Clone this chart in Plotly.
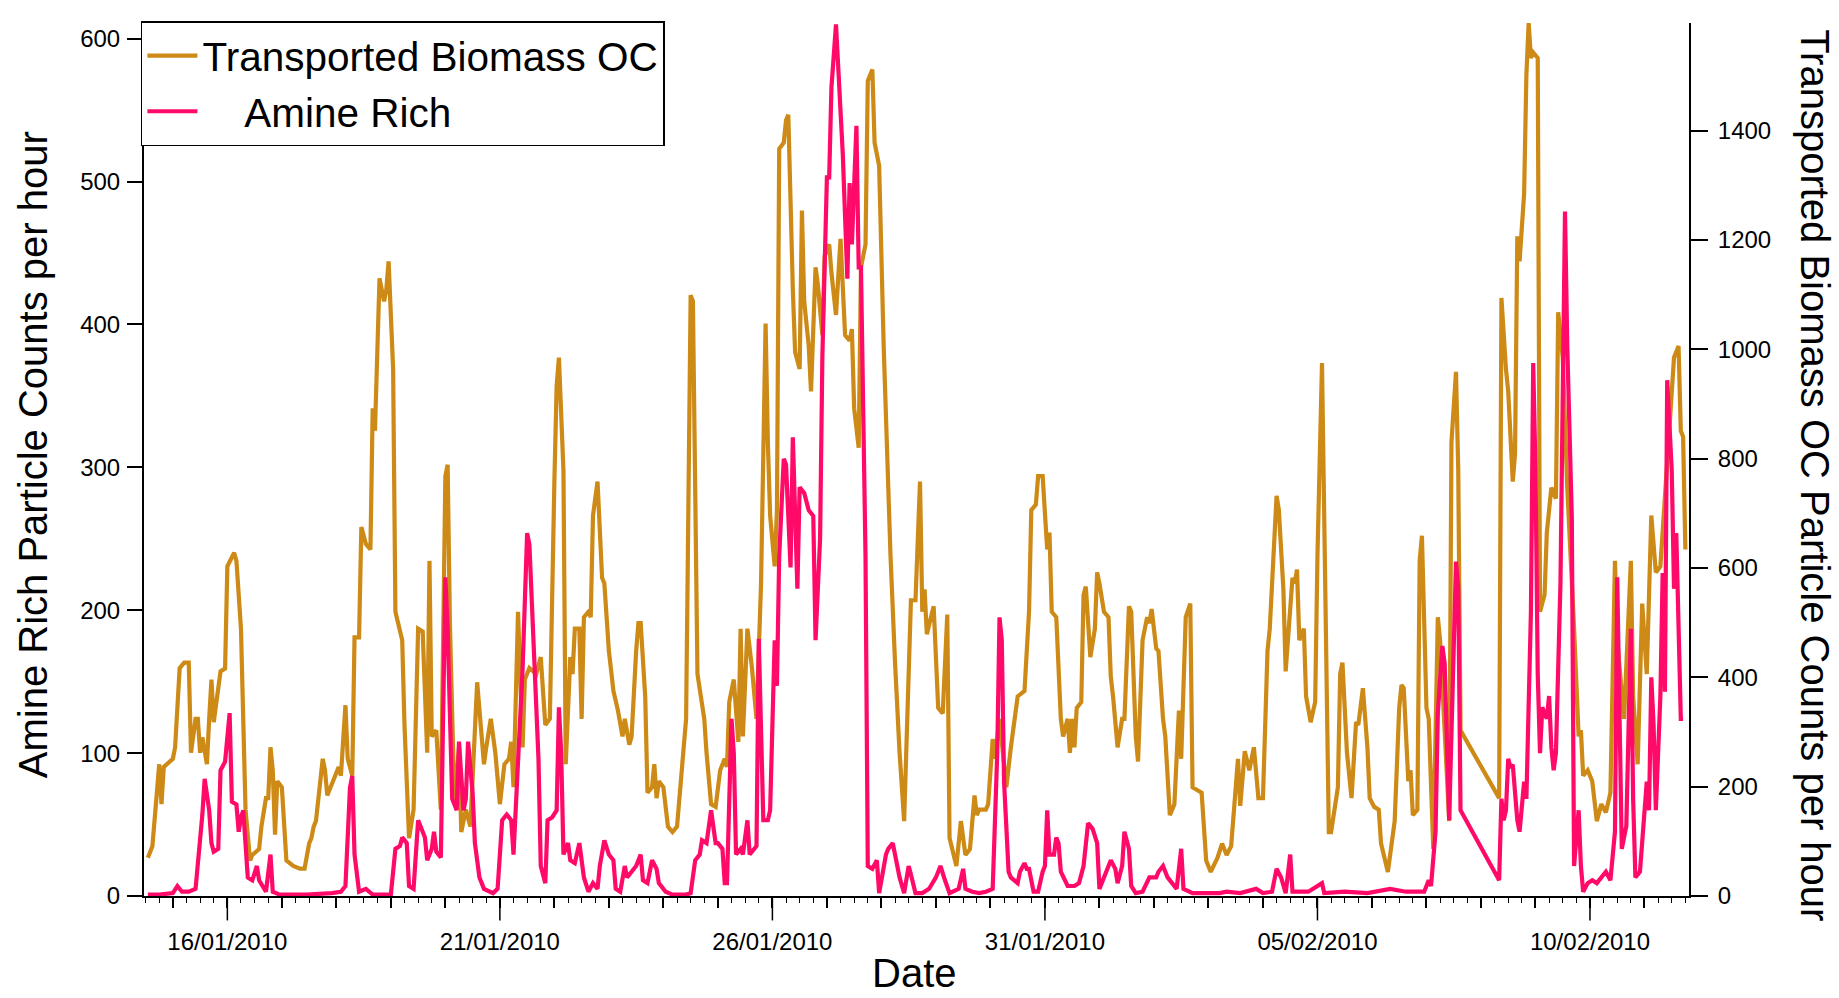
import pandas as pd
import plotly.graph_objects as go

# Hourly particle counts, keyed by hours since 2010-01-14 00:00
start = pd.Timestamp("2010-01-14 00:00")

biomass_hours = [
    13, 15, 18, 19, 20, 24, 25, 27, 29, 31, 32, 34, 35, 36, 37, 39, 40, 41, 42, 45,
    47, 48, 51, 52, 54, 56, 58, 59, 62, 63, 65, 66, 67, 68, 69, 70, 72, 74, 77, 80,
    82, 84, 85, 86, 87, 90, 91, 92, 95, 97, 98, 100, 101, 103, 104, 106, 107, 109, 111, 112,
    113, 115, 117, 118, 119, 121, 122, 125, 126, 128, 130, 132, 134, 136, 137, 138, 140, 142, 144, 145,
    146, 148, 150, 151, 153, 155, 158, 161, 162, 164, 166, 168, 170, 172, 173, 174, 176, 178, 179, 181,
    184, 186, 188, 190, 192, 193, 194, 196, 197, 199, 200, 201, 203, 204, 205, 207, 208, 209, 211, 213,
    214, 216, 218, 220, 222, 223, 225, 226, 228, 229, 230, 232, 233, 235, 236, 237, 238, 240, 242, 244,
    246, 248, 250, 252, 253, 255, 258, 259, 261, 263, 265, 267, 268, 269, 271, 273, 274, 275, 277, 279,
    281, 283, 285, 286, 287, 289, 290, 291, 293, 294, 295, 297, 298, 300, 301, 302, 304, 305, 307, 308,
    310, 311, 313, 314, 316, 318, 319, 320, 322, 323, 324, 326, 327, 329, 330, 332, 333, 335, 337, 339,
    340, 342, 344, 346, 348, 349, 351, 353, 354, 355, 356, 359, 361, 363, 365, 366, 369, 371, 373, 375,
    377, 378, 379, 382, 383, 385, 386, 388, 390, 391, 393, 395, 396, 399, 401, 402, 404, 405, 407, 409,
    410, 411, 413, 415, 416, 418, 419, 420, 421, 422, 424, 425, 426, 428, 430, 431, 432, 434, 436, 437,
    438, 440, 442, 443, 445, 446, 448, 449, 451, 453, 454, 455, 457, 458, 460, 461, 463, 465, 466, 467,
    468, 470, 472, 473, 475, 477, 479, 481, 484, 486, 488, 490, 493, 494, 496, 498, 500, 501, 502, 504,
    506, 507, 510, 511, 513, 514, 515, 517, 518, 519, 520, 522, 523, 525, 527, 528, 530, 531, 533, 534,
    537, 538, 539, 541, 543, 545, 546, 548, 550, 551, 553, 555, 556, 559, 560, 562, 564, 565, 566, 568,
    569, 570, 572, 573, 574, 576, 577, 579, 581, 582, 584, 586, 587, 589, 590, 591, 608, 609, 611, 612,
    614, 615, 616, 617, 619, 620, 621, 622, 623, 625, 626, 628, 629, 631, 633, 634, 636, 638, 641, 643,
    644, 645, 647, 649, 651, 653, 655, 657, 659, 660, 663, 666, 667, 669, 671, 673, 675, 677, 679, 681,
    683, 685, 687, 688, 689, 690,
]
biomass_counts = [
    70, 91, 241, 168, 236, 251, 272, 417, 427, 427, 262, 324, 324, 262, 290, 241, 324, 396, 318, 411,
    416, 603, 628, 613, 489, 158, 65, 75, 86, 127, 179, 179, 272, 230, 112, 210, 199, 65, 55, 50,
    50, 96, 106, 127, 137, 251, 230, 184, 215, 236, 220, 349, 251, 220, 473, 473, 675, 644, 634, 892,
    851, 1130, 1088, 1109, 1161, 964, 520, 468, 313, 106, 158, 489, 484, 262, 613, 292, 303, 158, 768, 789,
    499, 168, 272, 117, 158, 127, 391, 241, 272, 324, 262, 168, 241, 251, 282, 199, 520, 272, 396, 417,
    406, 437, 313, 324, 758, 933, 985, 778, 241, 437, 406, 489, 489, 324, 510, 520, 510, 696, 758, 582,
    572, 448, 375, 339, 292, 324, 277, 292, 448, 499, 499, 365, 189, 199, 241, 179, 210, 199, 127, 117,
    127, 230, 324, 1099, 1088, 406, 324, 262, 168, 163, 230, 251, 236, 355, 396, 282, 489, 292, 489, 417,
    324, 572, 1047, 830, 696, 603, 706, 1367, 1378, 1419, 1429, 1109, 995, 964, 1254, 1088, 1006, 923, 1150, 1119,
    1026, 1171, 1192, 1140, 1063, 1202, 1130, 1026, 1016, 1037, 892, 820, 1150, 1192, 1491, 1512, 1378, 1336, 1006, 706,
    623, 427, 262, 137, 417, 541, 541, 758, 520, 561, 479, 530, 344, 334, 515, 106, 55, 137, 75, 86,
    184, 148, 158, 158, 168, 287, 251, 324, 241, 199, 272, 329, 365, 375, 520, 706, 716, 768, 768, 634,
    665, 520, 510, 324, 292, 324, 262, 324, 272, 344, 355, 551, 566, 437, 489, 592, 572, 520, 510, 401,
    365, 272, 324, 324, 530, 520, 292, 246, 468, 510, 499, 525, 453, 448, 324, 292, 148, 168, 241, 339,
    251, 510, 535, 199, 194, 189, 65, 44, 70, 96, 75, 91, 251, 165, 265, 230, 272, 220, 179, 179,
    448, 489, 732, 706, 561, 411, 468, 582, 572, 597, 468, 489, 365, 318, 355, 623, 975, 675, 117, 117,
    199, 406, 427, 262, 179, 318, 313, 380, 272, 179, 163, 158, 96, 44, 75, 137, 344, 386, 380, 210,
    230, 148, 158, 613, 659, 344, 324, 86, 510, 468, 303, 137, 830, 959, 778, 303, 179, 1094, 964, 923,
    758, 809, 1207, 1161, 1285, 1502, 1597, 1533, 1543, 1533, 520, 551, 665, 747, 727, 1068, 985, 747, 489, 292,
    303, 220, 230, 210, 137, 168, 153, 189, 613, 468, 324, 613, 365, 241, 535, 406, 696, 592, 603, 737,
    861, 985, 1006, 851, 840, 634,
]

amine_hours = [
    13, 18, 24, 26, 28, 31, 34, 35, 37, 38, 40, 41, 42, 44, 45, 47, 49, 50, 52, 53,
    54, 55, 57, 59, 61, 62, 64, 65, 67, 68, 71, 83, 94, 98, 100, 102, 103, 104, 106, 109,
    112, 120, 122, 124, 125, 127, 128, 130, 132, 134, 135, 136, 138, 139, 140, 142, 144, 145, 147, 149,
    150, 152, 153, 154, 156, 157, 159, 161, 165, 167, 169, 171, 173, 174, 176, 178, 180, 181, 183, 185,
    186, 188, 189, 191, 193, 194, 195, 196, 198, 199, 201, 203, 205, 207, 209, 211, 212, 214, 216, 218,
    219, 221, 223, 224, 226, 228, 230, 231, 233, 235, 237, 238, 241, 244, 250, 252, 254, 256, 257, 259,
    261, 263, 264, 266, 267, 268, 270, 271, 272, 274, 275, 277, 278, 280, 281, 282, 284, 286, 287, 289,
    290, 291, 293, 294, 296, 297, 299, 300, 302, 304, 306, 307, 309, 310, 312, 313, 314, 316, 318, 319,
    321, 322, 323, 324, 325, 326, 327, 329, 330, 332, 334, 335, 338, 339, 341, 342, 344, 346, 348, 349,
    351, 354, 357, 360, 362, 364, 366, 370, 372, 373, 376, 379, 382, 385, 387, 388, 389, 390, 392, 393,
    396, 397, 399, 400, 401, 403, 405, 407, 408, 409, 410, 412, 413, 414, 415, 418, 421, 423, 425, 427,
    429, 431, 432, 435, 436, 437, 439, 440, 442, 443, 445, 446, 448, 451, 454, 457, 458, 460, 462, 464,
    466, 468, 469, 473, 485, 488, 494, 501, 504, 508, 510, 512, 514, 516, 517, 524, 530, 531, 540, 550,
    560, 567, 575, 577, 578, 580, 581, 583, 584, 586, 587, 589, 590, 591, 608, 609, 610, 611, 612, 613,
    614, 616, 617, 619, 620, 622, 623, 624, 625, 626, 627, 629, 630, 631, 632, 633, 635, 636, 637, 638,
    640, 641, 643, 644, 645, 647, 649, 651, 653, 655, 657, 659, 660, 661, 662, 664, 665, 666, 667, 668,
    670, 672, 673, 674, 675, 676, 677, 679, 680, 681, 682, 684, 685, 686, 688, 689,
]
amine_counts = [
    1, 1, 2, 7, 3, 3, 5, 21, 57, 82, 60, 37, 31, 33, 88, 94, 128, 66, 64, 45,
    55, 60, 13, 11, 21, 11, 5, 3, 29, 3, 1, 1, 2, 3, 7, 76, 84, 29, 3, 5,
    1, 1, 33, 35, 41, 37, 7, 5, 53, 45, 41, 25, 33, 45, 31, 27, 223, 187, 68, 60,
    108, 60, 68, 108, 72, 37, 13, 5, 2, 5, 53, 57, 53, 29, 88, 159, 254, 246, 171, 96,
    21, 9, 53, 55, 60, 132, 100, 29, 37, 25, 23, 37, 13, 3, 9, 5, 21, 39, 29, 25,
    5, 3, 21, 13, 17, 21, 29, 11, 9, 25, 19, 9, 3, 1, 1, 2, 25, 29, 39, 37,
    60, 37, 37, 33, 9, 9, 124, 100, 29, 33, 29, 53, 29, 33, 35, 180, 53, 53, 60, 179,
    147, 238, 306, 302, 230, 321, 215, 286, 282, 270, 266, 179, 250, 377, 503, 503, 566, 610, 555, 519,
    432, 499, 456, 495, 539, 440, 440, 238, 21, 19, 25, 2, 29, 33, 37, 29, 13, 2, 21, 15,
    2, 2, 5, 13, 21, 11, 2, 5, 19, 5, 3, 2, 3, 5, 100, 195, 179, 80, 17, 13,
    9, 17, 23, 19, 19, 3, 3, 17, 21, 60, 29, 29, 41, 37, 17, 7, 7, 9, 21, 51,
    47, 37, 5, 17, 21, 25, 19, 9, 21, 45, 33, 7, 2, 3, 13, 13, 17, 21, 13, 9,
    5, 33, 5, 2, 2, 3, 2, 5, 2, 3, 19, 13, 2, 29, 3, 3, 9, 2, 3, 2,
    5, 3, 3, 11, 7, 45, 128, 175, 163, 53, 120, 234, 215, 60, 11, 68, 53, 60, 96, 90,
    92, 53, 45, 80, 68, 199, 373, 298, 155, 100, 132, 124, 140, 104, 88, 100, 219, 337, 479, 385,
    265, 21, 60, 21, 3, 9, 11, 9, 13, 17, 11, 45, 223, 100, 33, 49, 120, 187, 68, 13,
    17, 60, 80, 60, 153, 120, 60, 140, 226, 143, 361, 298, 215, 254, 124, 124,
]

# Date axis: a tick every day, a label every five days
tick_days = pd.date_range("2010-01-15", "2010-02-11", freq="D")
label_days = pd.to_datetime(["2010-01-16", "2010-01-21", "2010-01-26",
                             "2010-01-31", "2010-02-05", "2010-02-10"])
tick_text = [d.strftime("%d/%m/%Y") if d in label_days else "" for d in tick_days]

biomass_ticks = [0, 200, 400, 600, 800, 1000, 1200, 1400]
amine_ticks = [0, 100, 200, 300, 400, 500, 600]

BIOMASS_COLOR = "#CD8A16"
AMINE_COLOR = "#FF0A68"
FAMILY = "Liberation Sans, Arial, sans-serif"
TICK_FONT = dict(family=FAMILY, size=24, color="black")
TITLE_FONT = dict(family=FAMILY, size=40, color="black")

biomass_time = start + pd.to_timedelta(biomass_hours, unit="h")
amine_time = start + pd.to_timedelta(amine_hours, unit="h")

fig = go.Figure()
fig.add_trace(go.Scatter(
    x=biomass_time, y=biomass_counts, mode="lines", name="Transported Biomass OC",
    line=dict(color=BIOMASS_COLOR, width=4.2), yaxis="y",
))
fig.add_trace(go.Scatter(
    x=amine_time, y=amine_counts, mode="lines",
    name="\u00a0\u00a0\u00a0\u2009Amine Rich",
    line=dict(color=AMINE_COLOR, width=4.2), yaxis="y2",
))

axis_common = dict(showgrid=False, zeroline=False, showline=True, linecolor="black",
                   linewidth=2, ticks="outside", tickcolor="black", tickwidth=1.5,
                   tickfont=TICK_FONT)

fig.update_layout(
    width=1839, height=998,
    margin=dict(l=144, r=150, t=23, b=102),
    paper_bgcolor="white", plot_bgcolor="white",
    showlegend=True,
    legend=dict(x=-0.002, y=1.002, xanchor="left", yanchor="top",
                bgcolor="white", bordercolor="black", borderwidth=1.5,
                font=dict(family=FAMILY, size=40.5, color="black"),
                itemwidth=50, tracegroupgap=0),
    xaxis=dict(
        type="date",
        range=[start + pd.Timedelta(hours=11.3), start + pd.Timedelta(hours=691.6)],
        tickmode="array", tickvals=tick_days, ticktext=tick_text,
        ticklen=10, ticklabelstandoff=13,
        minor=dict(ticks="outside", tick0=start, dtick=6 * 3600 * 1000,
                   ticklen=5, tickcolor="black", tickwidth=1),
        **axis_common,
    ),
    yaxis=dict(
        side="right", range=[0, 1597], tickmode="array", tickvals=biomass_ticks,
        ticklen=17, ticklabelstandoff=5, **axis_common,
    ),
    yaxis2=dict(
        overlaying="y", side="left", range=[0, 611], tickmode="array",
        tickvals=amine_ticks, ticklen=15, ticklabelstandoff=2, **axis_common,
    ),
)

# Longer ticks under the labelled dates
for d in label_days:
    fig.add_shape(type="line", xref="x", yref="paper", x0=d, x1=d, y0=0, y1=-0.028,
                  line=dict(color="black", width=1.5))

# Axis titles
fig.add_annotation(text="Amine Rich Particle Counts per hour", xref="paper", yref="paper",
                   x=-0.0718, y=0.505, textangle=-90, showarrow=False,
                   xanchor="center", yanchor="middle", font=TITLE_FONT)
fig.add_annotation(text="Transported Biomass OC Particle Counts per hour", xref="paper", yref="paper",
                   x=1.0816, y=0.482, textangle=90, showarrow=False,
                   xanchor="center", yanchor="middle", font=TITLE_FONT)
fig.add_annotation(text="Date", xref="paper", yref="paper", x=0.499, y=-0.0885,
                   showarrow=False, xanchor="center", yanchor="middle", font=TITLE_FONT)

fig.write_html("out.html")
